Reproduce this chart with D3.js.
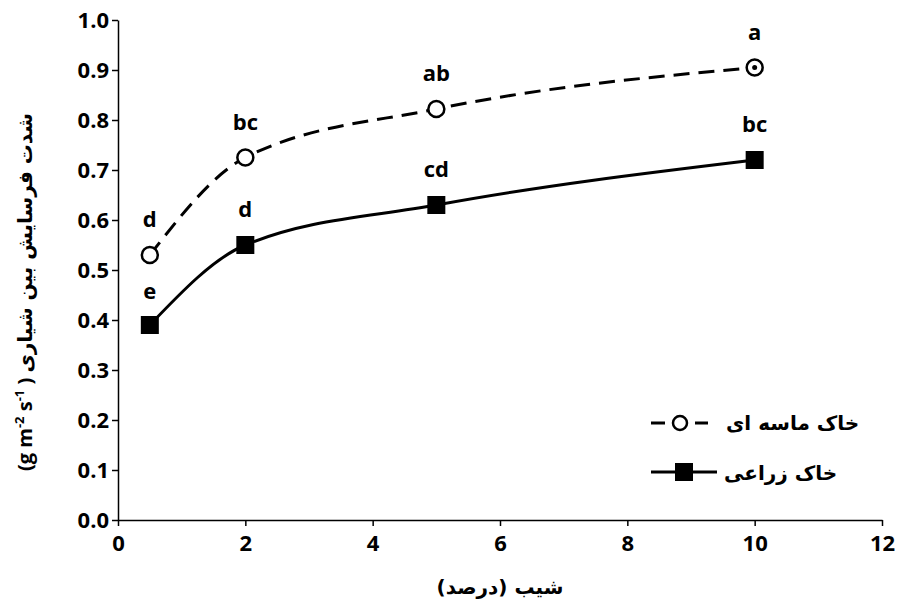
<!DOCTYPE html><html><head><meta charset="utf-8"><script src="https://cdn.jsdelivr.net/npm/d3@7"></script>
<style>body{margin:0;background:#fff}text{font-family:"Open Sans",sans-serif;font-weight:bold}</style></head><body><svg id="c" width="901" height="607"></svg><script>
const slopes=[0.5,2,5,10];
const sandy=[0.53,0.725,0.822,0.905];
const farm=[0.39,0.55,0.63,0.72];
const sandyLetters=["d","bc","ab","a"];
const farmLetters=["e","d","cd","bc"];
const xTicks=[0,2,4,6,8,10,12];
const yTicks=[0,0.1,0.2,0.3,0.4,0.5,0.6,0.7,0.8,0.9,1.0];
const svg=d3.select("#c");
const F="'Open Sans',sans-serif", P="'DejaVu Sans',sans-serif";
const x=d3.scaleLinear().domain([0,12]).range([118,882]);
const y=d3.scaleLinear().domain([0,1]).range([520,20]);
const xa=svg.append("g").attr("transform","translate(0,520)").call(d3.axisBottom(x).tickValues(xTicks).tickSize(6).tickSizeOuter(0).tickFormat(d3.format("d")));
const ya=svg.append("g").attr("transform","translate(118,0)").call(d3.axisLeft(y).tickValues(yTicks).tickSize(6).tickSizeOuter(0).tickFormat(d3.format(".1f")));
[xa,ya].forEach(a=>{a.attr("font-size",null).attr("font-family",null);a.selectAll("path,line").attr("stroke","#000").attr("stroke-width",1.5);a.selectAll("text").style("font-size","22px").attr("fill","#000").style("font-family",F).style("font-weight","bold");});
xa.selectAll("text").attr("dy","1.0em");
ya.selectAll("text").attr("x",-9);
const line=d3.line().x(d=>x(d[0])).y(d=>y(d[1])).curve(d3.curveMonotoneX);
svg.append("path").attr("d",line(slopes.map((s,i)=>[s,sandy[i]]))).attr("fill","none").attr("stroke","#000").attr("stroke-width",3).attr("stroke-dasharray","16,9");
svg.append("path").attr("d",line(slopes.map((s,i)=>[s,farm[i]]))).attr("fill","none").attr("stroke","#000").attr("stroke-width",3);
slopes.forEach((s,i)=>{
 svg.append("circle").attr("cx",x(s)).attr("cy",y(sandy[i])).attr("r",8).attr("fill","#fff").attr("stroke","#000").attr("stroke-width",2.5);
 if(i==3)svg.append("circle").attr("cx",x(s)).attr("cy",y(sandy[i])).attr("r",2.5).attr("fill","#000");
 svg.append("rect").attr("x",x(s)-9).attr("y",y(farm[i])-9).attr("width",18).attr("height",18).attr("fill","#000");
 svg.append("text").attr("x",x(s)).attr("y",y(sandy[i])-28).attr("text-anchor","middle").style("font-size","22px").text(sandyLetters[i]);
 svg.append("text").attr("x",x(s)).attr("y",y(farm[i])-(i==0?26:28)).attr("text-anchor","middle").style("font-size","22px").text(farmLetters[i]);
});
svg.append("text").attr("x",500).attr("y",594).attr("text-anchor","middle").style("font-size","20px").style("font-family",P).text("شیب (درصد)");
const yl=svg.append("text").attr("transform","translate(32,292) rotate(-90)").attr("text-anchor","middle").style("font-size","20px").attr("direction","ltr");
yl.append("tspan").style("font-family",F).text("(g m");yl.append("tspan").style("font-family",F).style("font-size","13px").attr("dy",-8).text("-2");
yl.append("tspan").style("font-family",F).attr("dy",8).text(" s");yl.append("tspan").style("font-family",F).style("font-size","13px").attr("dy",-8).text("-1");
yl.append("tspan").attr("dy",8).text(" ) ");yl.append("tspan").style("font-family",P).text("شدت فرسایش بین شیاری");
// legend
svg.append("line").attr("x1",651).attr("x2",708).attr("y1",423).attr("y2",423).attr("stroke","#000").attr("stroke-width",3).attr("stroke-dasharray","14,8");
svg.append("circle").attr("cx",680).attr("cy",423).attr("r",7).attr("fill","#fff").attr("stroke","#000").attr("stroke-width",2.5);
svg.append("text").attr("x",726).attr("y",430).attr("text-anchor","start").style("font-size","20px").style("font-family",P).text("خاک ماسه ای");
svg.append("line").attr("x1",651).attr("x2",717).attr("y1",472).attr("y2",472).attr("stroke","#000").attr("stroke-width",3);
svg.append("rect").attr("x",675).attr("y",463).attr("width",18).attr("height",18).attr("fill","#000");
svg.append("text").attr("x",724).attr("y",480).attr("text-anchor","start").style("font-size","20px").style("font-family",P).text("خاک زراعی");
</script></body></html>
